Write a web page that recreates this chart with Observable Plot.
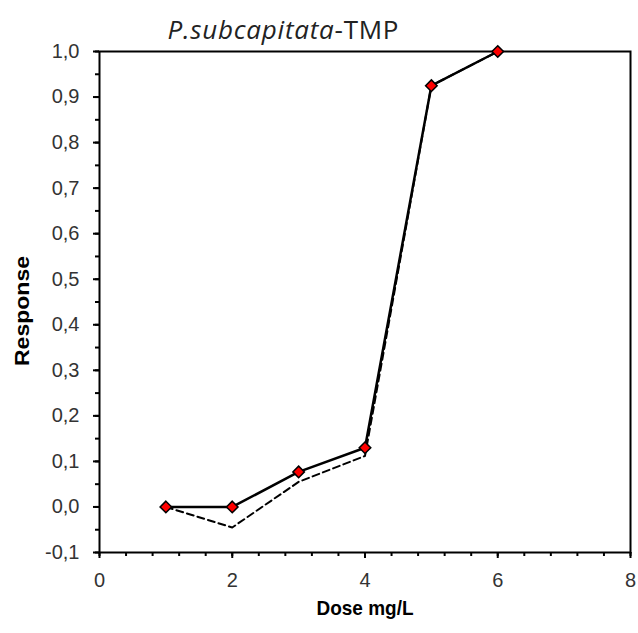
<!DOCTYPE html>
<html>
<head>
<meta charset="utf-8">
<script src="https://cdn.jsdelivr.net/npm/d3@7"></script>
<script src="https://cdn.jsdelivr.net/npm/@observablehq/plot@0.6"></script>
<style>
  body { margin: 0; background: #fff; }
  #chart svg { font-family: "Liberation Sans", Arial, sans-serif; display: block; }
</style>
</head>
<body>
<div id="chart"></div>
<script>
const doses = [1, 2, 3, 4, 5, 6];
const observed = [0.0, 0.0, 0.077, 0.13, 0.925, 1.0];
const fitted = [0.0, -0.045, 0.055, 0.112, 0.925, 1.0];
const xTicks = [0, 2, 4, 6, 8];
const xMinorTicks = d3.range(0, 8.001, 0.4).map(v => +v.toFixed(1));
const yTicks = [-0.1, 0.0, 0.1, 0.2, 0.3, 0.4, 0.5, 0.6, 0.7, 0.8, 0.9, 1.0];
const yMinorTicks = d3.range(-0.1, 1.001, 0.05).map(v => +v.toFixed(2));
const titleItalic = "P.subcapitata";
const titleRest = "-TMP";
const xLabel = "Dose mg/L";
const yLabel = "Response";

const obsData = doses.map((d, i) => ({dose: d, response: observed[i]}));
const fitData = doses.map((d, i) => ({dose: d, response: fitted[i]}));

const plot = Plot.plot({
  width: 638,
  height: 633,
  marginLeft: 99,
  marginRight: 8,
  marginTop: 51,
  marginBottom: 81,
  style: {fontFamily: "Liberation Sans, Arial, sans-serif", fontSize: "15px", color: "#000", background: "#fff"},
  x: {domain: [0, 8]},
  y: {domain: [-0.1, 1.0]},
  marks: [
    Plot.axisX(xMinorTicks, {tickSize: 4, tickFormat: null, text: null, strokeWidth: 2, label: null}),
    Plot.axisX(xTicks, {tickSize: 6, tickPadding: 14, strokeWidth: 2, fill: "#333", fontSize: 20, label: null, tickFormat: d => String(d)}),
    Plot.axisY(yMinorTicks, {tickSize: 4, tickFormat: null, text: null, strokeWidth: 2, label: null}),
    Plot.axisY(yTicks, {tickSize: 6, tickPadding: 14, strokeWidth: 2, fill: "#333", fontSize: 20, label: null, tickFormat: d => d.toFixed(1).replace(".", ",").replace("-0,0", "0,0")}),
    Plot.frame({stroke: "#000", strokeWidth: 2}),
    Plot.line(fitData, {x: "dose", y: "response", stroke: "#000", strokeWidth: 2, strokeDasharray: "7,4"}),
    Plot.line(obsData, {x: "dose", y: "response", stroke: "#000", strokeWidth: 2.5}),
    Plot.dot(obsData, {x: "dose", y: "response", symbol: "diamond2", r: 5.2, fill: "#ff0000", stroke: "#000", strokeWidth: 1.5}),
    Plot.text([xLabel], {frameAnchor: "bottom", dy: 62, text: d => d, fontSize: 21, fontWeight: "bold", fill: "#000", className: "xlab"}),
    Plot.text([yLabel], {frameAnchor: "left", textAnchor: "middle", dx: -77, dy: 9, rotate: -90, text: d => d, fontSize: 21, fontWeight: "bold", fill: "#000", className: "ylab"})
  ]
});

const svg = d3.select(plot);
svg.selectAll(".ylab text").attr("textLength", 110).attr("lengthAdjust", "spacingAndGlyphs");
svg.selectAll(".xlab text").attr("textLength", 97).attr("lengthAdjust", "spacingAndGlyphs");
const title = svg.append("text")
  .attr("x", 283)
  .attr("y", 39)
  .attr("text-anchor", "middle")
  .attr("font-size", 26)
  .attr("font-family", "Open Sans, Lato, sans-serif")
  .attr("fill", "#222")
  .attr("textLength", 231)
  .attr("lengthAdjust", "spacing");
title.append("tspan").attr("font-style", "italic").text(titleItalic);
title.append("tspan").text(titleRest);

document.getElementById("chart").appendChild(plot);
</script>
</body>
</html>
